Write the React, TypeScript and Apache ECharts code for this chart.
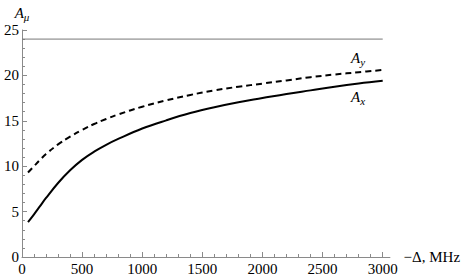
import React, { useEffect, useRef } from "react";
import * as echarts from "echarts";

const detuning = [50, 100, 150, 200, 300, 400, 500, 600, 700, 800, 1000, 1200, 1400, 1600, 1800, 2000, 2200, 2400, 2600, 2800, 3000];
const ayValues = [9.3, 10.0, 10.7, 11.35, 12.4, 13.25, 14.0, 14.65, 15.2, 15.7, 16.55, 17.25, 17.85, 18.35, 18.75, 19.1, 19.45, 19.8, 20.1, 20.35, 20.6];
const axValues = [3.84, 4.7, 5.6, 6.5, 8.15, 9.55, 10.7, 11.6, 12.35, 13.0, 14.15, 15.05, 15.85, 16.5, 17.05, 17.5, 17.95, 18.35, 18.75, 19.1, 19.4];
const limitX = [0, 3000];
const limitValue = 24;
const xMajorTicks = [0, 500, 1000, 1500, 2000, 2500, 3000];
const xMinorTicks = Array.from({ length: 31 }, (_, i) => i * 100);

const FONT = "Liberation Serif";

export default function App() {
  const ref = useRef<HTMLDivElement>(null);
  useEffect(() => {
    if (!ref.current) return;
    const chart = echarts.init(ref.current, undefined, { renderer: "svg" });
    const axisColor = "#8a8a8a";
    const rich = {
      a: { fontFamily: FONT, fontStyle: "italic", fontSize: 15, color: "#000" },
      s: { fontFamily: FONT, fontStyle: "italic", fontSize: 11, color: "#000", padding: [8, 0, 0, 0] },
    };
    const labelRich = {
      a: { fontFamily: FONT, fontStyle: "italic", fontSize: 15, fill: "#000" },
      s: { fontFamily: FONT, fontStyle: "italic", fontSize: 11, fill: "#000", padding: [8, 0, 0, 0] },
    };
    chart.setOption({
      animation: false,
      backgroundColor: "#ffffff",
      textStyle: { fontFamily: FONT },
      grid: { left: 22, right: 71, top: 30, bottom: 20, containLabel: false },
      xAxis: [
        {
          type: "value",
          min: 0,
          max: 3060,
          interval: 500,
          name: "\u2212\u0394, MHz",
          nameLocation: "end",
          nameGap: 4,
          nameTextStyle: { fontFamily: FONT, fontSize: 15, color: "#000" },
          axisLine: { show: true, lineStyle: { color: axisColor, width: 1 } },
          axisTick: { show: true, inside: true, length: 3, customValues: xMinorTicks, lineStyle: { color: axisColor } },
          axisLabel: {
            customValues: xMajorTicks,
            formatter: (v: number) => String(v),
            fontFamily: FONT,
            fontSize: 15,
            color: "#000",
            margin: 4,
          },
          splitLine: { show: false },
        },
        {
          type: "value",
          min: 0,
          max: 3060,
          position: "bottom",
          axisLine: { show: false },
          axisTick: { show: true, inside: true, length: 5, customValues: xMajorTicks, lineStyle: { color: axisColor } },
          axisLabel: { show: false },
          splitLine: { show: false },
        },
      ],
      yAxis: {
        type: "value",
        min: 0,
        max: 25,
        interval: 5,
        name: "{a|A}{s|\u03bc}",
        nameLocation: "end",
        nameGap: 8,
        nameTextStyle: { rich },
        axisLine: { show: true, lineStyle: { color: axisColor, width: 1 } },
        axisTick: { show: true, inside: true, length: 5, lineStyle: { color: axisColor } },
        minorTick: { show: true, splitNumber: 5, length: 3, lineStyle: { color: axisColor } },
        axisLabel: { fontFamily: FONT, fontSize: 15, color: "#000", margin: 3 },
        splitLine: { show: false },
      },
      series: [
        {
          type: "line",
          data: limitX.map((x) => [x, limitValue]),
          showSymbol: false,
          lineStyle: { color: "#777", width: 1 },
          silent: true,
        },
        {
          type: "line",
          name: "Ay",
          data: detuning.map((x, i) => [x, ayValues[i]]),
          smooth: 0.4,
          showSymbol: false,
          lineStyle: { color: "#000", width: 2, type: [6, 4] },
        },
        {
          type: "line",
          name: "Ax",
          data: detuning.map((x, i) => [x, axValues[i]]),
          smooth: 0.4,
          showSymbol: false,
          lineStyle: { color: "#000", width: 2 },
        },
      ],
      graphic: [
        { type: "text", left: 351, top: 50, style: { text: "{a|A}{s|y}", rich: labelRich } },
        { type: "text", left: 351, top: 89, style: { text: "{a|A}{s|x}", rich: labelRich } },
      ],
    });
    return () => chart.dispose();
  }, []);
  return <div ref={ref} style={{ position: "absolute", left: 0, top: 0, width: 463, height: 277 }} />;
}
